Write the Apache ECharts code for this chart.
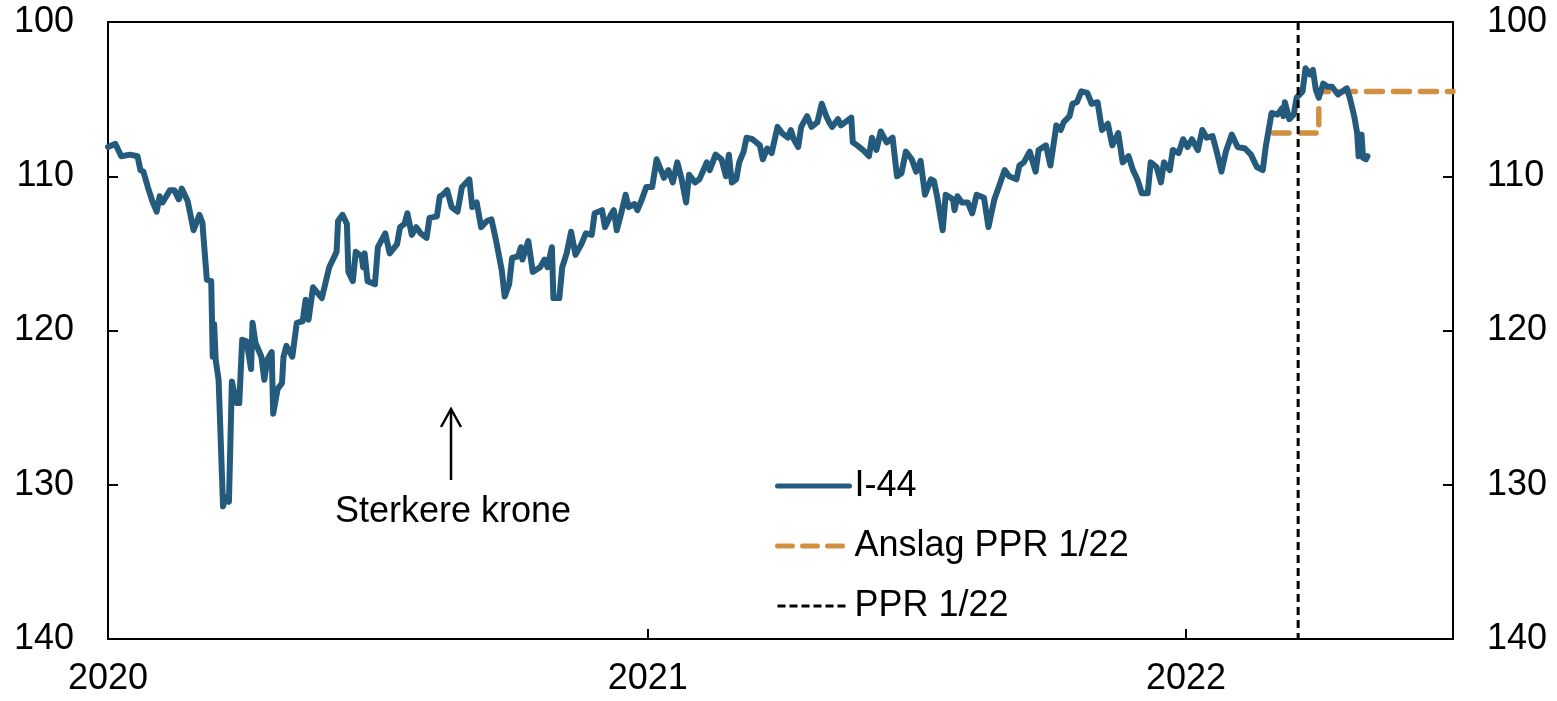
<!DOCTYPE html>
<html>
<head>
<meta charset="utf-8">
<script src="https://cdn.jsdelivr.net/npm/echarts@6/dist/echarts.min.js"></script>
<style>
  html, body { margin: 0; padding: 0; background: #fff; }
  #chart { width: 1557px; height: 701px; }
</style>
</head>
<body>
<div id="chart"></div>
<script>
// I-44 (inverted scale: higher = weaker krone)
var i44Dates = [
  "2020-01-01","2020-01-06","2020-01-10","2020-01-16","2020-01-21","2020-01-23","2020-01-25","2020-01-28","2020-01-31","2020-02-03",
  "2020-02-05","2020-02-07","2020-02-12","2020-02-15","2020-02-18","2020-02-20","2020-02-24","2020-02-28","2020-03-03","2020-03-05",
  "2020-03-08","2020-03-11","2020-03-12","2020-03-13","2020-03-14","2020-03-16","2020-03-19","2020-03-21","2020-03-23","2020-03-25",
  "2020-03-28","2020-03-30","2020-04-01","2020-04-04","2020-04-07","2020-04-08","2020-04-10","2020-04-14","2020-04-16","2020-04-18",
  "2020-04-21","2020-04-22","2020-04-25","2020-04-28","2020-04-29","2020-05-01","2020-05-05","2020-05-08","2020-05-12","2020-05-14",
  "2020-05-16","2020-05-19","2020-05-25","2020-05-28","2020-05-30","2020-06-04","2020-06-05","2020-06-08","2020-06-11","2020-06-12",
  "2020-06-15","2020-06-17","2020-06-21","2020-06-22","2020-06-23","2020-06-25","2020-06-30","2020-07-02","2020-07-07","2020-07-10",
  "2020-07-15","2020-07-17","2020-07-20","2020-07-22","2020-07-25","2020-07-28","2020-07-31","2020-08-04","2020-08-06","2020-08-11",
  "2020-08-13","2020-08-15","2020-08-18","2020-08-21","2020-08-25","2020-08-28","2020-09-02","2020-09-04","2020-09-07","2020-09-10",
  "2020-09-14","2020-09-17","2020-09-20","2020-09-24","2020-09-26","2020-09-29","2020-10-01","2020-10-05","2020-10-07","2020-10-08",
  "2020-10-12","2020-10-15","2020-10-20","2020-10-23","2020-10-25","2020-10-28","2020-10-29","2020-11-02","2020-11-04","2020-11-07",
  "2020-11-10","2020-11-13","2020-11-17","2020-11-20","2020-11-24","2020-11-26","2020-12-01","2020-12-03","2020-12-07","2020-12-09",
  "2020-12-11","2020-12-14","2020-12-17","2020-12-19","2020-12-23","2020-12-25","2020-12-28","2020-12-31",
  "2021-01-04","2021-01-07","2021-01-12","2021-01-15","2021-01-18","2021-01-21","2021-01-24","2021-01-27","2021-01-29","2021-02-02",
  "2021-02-05","2021-02-10","2021-02-12","2021-02-16","2021-02-20","2021-02-23","2021-02-25","2021-02-27","2021-03-02","2021-03-04",
  "2021-03-07","2021-03-09","2021-03-13","2021-03-18","2021-03-20","2021-03-23","2021-03-26","2021-03-30","2021-04-02","2021-04-06",
  "2021-04-08","2021-04-10","2021-04-13","2021-04-15","2021-04-19","2021-04-22","2021-04-26","2021-04-29","2021-05-02","2021-05-04",
  "2021-05-06","2021-05-10","2021-05-12","2021-05-19","2021-05-20","2021-05-23","2021-05-27","2021-05-31","2021-06-02","2021-06-05",
  "2021-06-08","2021-06-12","2021-06-16","2021-06-19","2021-06-22","2021-06-25","2021-06-29","2021-07-02","2021-07-05","2021-07-08",
  "2021-07-12","2021-07-14","2021-07-16","2021-07-20","2021-07-22","2021-07-27","2021-07-28","2021-07-30","2021-08-02","2021-08-06",
  "2021-08-09","2021-08-12","2021-08-17","2021-08-20","2021-08-24","2021-08-27","2021-08-31","2021-09-03","2021-09-08","2021-09-10",
  "2021-09-13","2021-09-17","2021-09-21","2021-09-23","2021-09-28","2021-10-01","2021-10-04","2021-10-05","2021-10-08","2021-10-10",
  "2021-10-14","2021-10-16","2021-10-19","2021-10-22","2021-10-26","2021-10-29","2021-11-02","2021-11-05","2021-11-09","2021-11-12",
  "2021-11-16","2021-11-19","2021-11-23","2021-11-26","2021-11-29","2021-12-02","2021-12-06","2021-12-08","2021-12-12","2021-12-15",
  "2021-12-17","2021-12-21","2021-12-23","2021-12-27","2021-12-30",
  "2022-01-02","2022-01-05","2022-01-09","2022-01-12","2022-01-15","2022-01-19","2022-01-22","2022-01-25","2022-01-28","2022-02-01",
  "2022-02-05","2022-02-10","2022-02-14","2022-02-18","2022-02-22","2022-02-24","2022-02-26","2022-02-28","2022-03-04","2022-03-07",
  "2022-03-08","2022-03-09","2022-03-12","2022-03-15","2022-03-17","2022-03-21","2022-03-23","2022-03-26","2022-03-28","2022-03-30",
  "2022-04-01","2022-04-04","2022-04-07","2022-04-10","2022-04-14","2022-04-17","2022-04-20","2022-04-22","2022-04-25","2022-04-27",
  "2022-04-28","2022-04-30","2022-05-01","2022-05-03","2022-05-04"
];
var i44Values = [
  108.1,107.9,108.7,108.6,108.7,109.6,109.7,110.7,111.6,112.3,
  111.3,111.7,110.9,110.9,111.5,110.8,111.6,113.5,112.5,113.0,
  116.7,116.8,121.7,119.6,121.9,123.2,131.4,130.8,131.1,123.3,
  124.7,124.7,120.6,120.7,122.5,119.5,120.8,121.7,123.2,121.9,
  121.4,125.4,123.8,123.4,121.7,121.0,121.7,119.5,119.4,118.0,
  119.3,117.2,117.9,116.7,115.9,114.9,112.9,112.5,113.1,116.2,
  116.8,114.9,115.2,115.9,115.0,116.8,117.0,114.6,113.7,115.0,
  114.4,113.3,113.1,112.4,113.8,113.3,113.7,114.0,112.7,112.6,
  111.3,111.2,110.9,112.0,112.3,110.7,110.2,112.0,111.7,113.3,
  112.9,112.8,114.1,116.1,117.8,117.0,115.3,115.2,114.6,115.4,
  114.2,116.2,115.9,115.4,115.9,114.6,117.9,117.9,115.9,115.0,
  113.6,115.1,114.4,113.7,113.8,112.4,112.2,113.3,112.5,112.2,
  113.5,112.4,111.2,112.0,111.8,112.2,111.5,110.7,
  110.7,108.9,110.1,109.6,110.4,109.1,110.2,111.7,109.9,110.4,
  110.2,109.1,109.6,108.6,108.9,110.0,108.6,110.4,110.2,109.1,
  108.4,107.5,107.6,108.0,108.9,108.2,108.5,106.8,107.2,107.5,
  107.0,107.6,108.1,106.8,106.1,106.8,106.5,105.3,106.1,106.5,
  106.8,106.3,106.7,106.2,107.8,108.0,108.3,108.7,107.5,108.3,
  107.1,107.8,107.5,110.0,109.8,108.4,108.9,109.7,109.0,111.2,
  110.2,110.3,111.2,113.5,111.2,111.5,112.2,111.3,111.7,111.7,
  112.4,111.2,111.4,113.3,111.5,110.7,109.6,110.0,110.2,109.3,
  109.1,108.4,109.7,108.3,108.0,109.3,107.4,106.7,107.0,106.5,
  106.1,105.3,105.2,104.5,104.6,105.3,105.2,107.0,106.6,108.0,
  107.2,109.1,108.7,109.6,110.2,111.1,111.1,109.1,109.4,110.4,
  109.1,109.6,108.3,108.5,107.6,
  108.1,107.6,108.3,107.0,107.5,107.4,108.5,109.7,108.4,107.3,
  108.1,108.2,108.6,109.4,109.6,108.1,107.0,105.9,106.0,105.6,
  106.1,105.2,106.3,106.0,104.9,104.5,103.0,103.4,103.1,104.4,
  104.9,104.0,104.2,104.2,104.7,104.5,104.3,104.9,106.1,107.2,
  108.7,107.3,108.8,108.9,108.7
];

// Anslag PPR 1/22 (stepped forecast)
var anslagDates = ["2022-03-01", "2022-04-01", "2022-04-01", "2022-07-01"];
var anslagValues = [107.2, 107.2, 104.5, 104.5];

// PPR 1/22 cut-off
var pprDate = "2022-03-18";

var yTicks = [100, 110, 120, 130, 140];
var xRange = ["2020-01-01", "2022-07-01"];
var yearTicks = ["2020-01-01", "2021-01-01", "2022-01-01"];

function ts(d) {
  return Date.UTC(+d.slice(0, 4), +d.slice(5, 7) - 1, +d.slice(8, 10));
}
function zip(a, b) {
  return a.map(function (d, i) { return [ts(d), b[i]]; });
}

var font = "'Liberation Sans', Arial, sans-serif";
var fs = 36;
var blue = "#245B7C", orange = "#D0903F";
var yearValues = yearTicks.map(ts);

function yAxis(pos) {
  return {
    type: "value",
    position: pos,
    inverse: true,
    min: yTicks[0],
    max: yTicks[yTicks.length - 1],
    interval: 10,
    axisLine: { show: true, lineStyle: { color: "#000", width: 2 } },
    axisTick: { show: true, inside: true, length: 10, lineStyle: { color: "#000", width: 2 } },
    axisLabel: { color: "#000", fontSize: fs, fontFamily: font, margin: 34 },
    splitLine: { show: false }
  };
}

var chart = echarts.init(document.getElementById("chart"));
chart.setOption({
  animation: false,
  textStyle: { fontFamily: font },
  grid: {
    left: 108, right: 104, top: 22, bottom: 62,
    show: true, borderColor: "#000", borderWidth: 2
  },
  legend: {
    orient: "vertical",
    left: 770,
    top: 461,
    itemWidth: 72,
    itemHeight: 20,
    itemGap: 20,
    textStyle: { color: "#000", fontSize: fs, fontFamily: font, lineHeight: 40 },
    data: [
      { name: "I-44", itemStyle: { opacity: 0 }, lineStyle: { width: 5, color: blue, type: "solid", cap: "round" } },
      { name: "Anslag PPR 1/22", itemStyle: { opacity: 0 }, lineStyle: { width: 5, color: orange, type: [15, 10], cap: "round" } },
      { name: "PPR 1/22", itemStyle: { opacity: 0 }, lineStyle: { width: 3, color: "#000", type: [8, 4] } }
    ]
  },
  xAxis: {
    type: "value",
    min: ts(xRange[0]),
    max: ts(xRange[1]),
    axisLine: { show: true, lineStyle: { color: "#000", width: 2 } },
    axisTick: { show: true, inside: true, length: 10, customValues: yearValues, lineStyle: { color: "#000", width: 2 } },
    axisLabel: {
      customValues: yearValues,
      color: "#000", fontSize: fs, fontFamily: font, margin: 22,
      formatter: function (v) { return String(new Date(v).getUTCFullYear()); }
    },
    splitLine: { show: false }
  },
  yAxis: [yAxis("left"), yAxis("right")],
  series: [
    {
      name: "I-44",
      type: "line",
      data: zip(i44Dates, i44Values),
      symbol: "none",
      color: blue,
      lineStyle: { color: blue, width: 6, join: "round", cap: "round" },
      z: 3
    },
    {
      name: "Anslag PPR 1/22",
      type: "line",
      data: zip(anslagDates, anslagValues),
      symbol: "none",
      color: orange,
      lineStyle: { color: orange, width: 5.5, type: [16, 11], cap: "round" },
      z: 2
    },
    {
      name: "PPR 1/22",
      type: "line",
      data: zip([pprDate, pprDate], [yTicks[0], yTicks[yTicks.length - 1]]),
      symbol: "none",
      color: "#000",
      lineStyle: { color: "#000", width: 3, type: [8, 5] },
      z: 4
    }
  ],
  graphic: [
    {
      type: "polyline",
      shape: { points: [[451, 480], [451, 409]] },
      style: { stroke: "#000", lineWidth: 2.5, fill: null }
    },
    {
      type: "polyline",
      shape: { points: [[441, 427], [451, 409], [461, 427]] },
      style: { stroke: "#000", lineWidth: 2.5, fill: null }
    },
    {
      type: "text",
      left: 335,
      top: 494,
      style: { text: "Sterkere krone", fill: "#000", fontSize: fs, fontFamily: font }
    }
  ]
});
</script>
</body>
</html>
